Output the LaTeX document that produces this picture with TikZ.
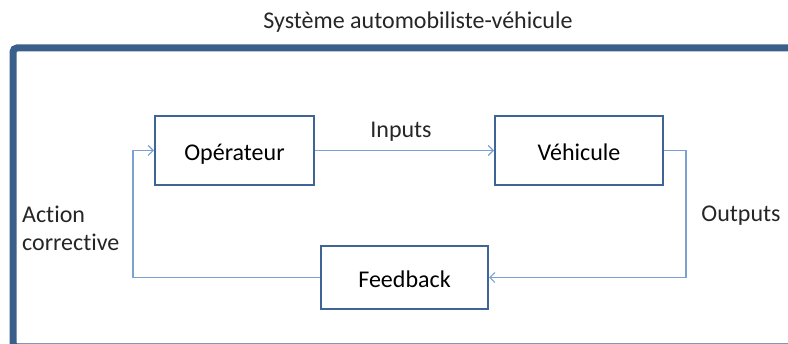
\documentclass[tikz,border=0pt]{standalone}
\usepackage{fontspec}
\setmainfont[Ligatures={NoCommon,NoDiscretionary,NoRare,NoContextual}]{Carlito}
\usetikzlibrary{arrows.meta}
\definecolor{frameblue}{HTML}{3A5F8B}
\definecolor{boxblue}{HTML}{3F6496}
\definecolor{lineblue}{HTML}{7BA0D4}
\tikzset{
  blockbox/.style={draw=boxblue, line width=2pt, fill=white, inner sep=0pt, text height=20pt, text depth=0pt, font=\fontsize{24}{28}\selectfont},
  flow/.style={draw=lineblue, line width=1.6pt, -{Straight Barb[length=5pt,width=10pt,line width=1.2pt]}},
  lbl/.style={font=\fontsize{24}{28}\selectfont, inner sep=0pt, text=black!85}
}
\begin{document}
\begin{tikzpicture}[x=1pt,y=-1pt]
\useasboundingbox (0,0) rectangle (788,344);
\clip (0,0) rectangle (788,344);
\draw[frameblue, line width=7pt, rounded corners=4pt] (13,48) rectangle (796,347);
\node[lbl, anchor=base] (title) at (418,29) {Système automobiliste-véhicule};
\node[blockbox, minimum width=159pt, minimum height=69pt] (op) at (234.5,150.5) {Opérateur};
\node[blockbox, minimum width=168pt, minimum height=69pt] (veh) at (579,150.5) {Véhicule};
\node[blockbox, minimum width=167pt, minimum height=63pt] (fb) at (404.5,277.5) {Feedback};
\coordinate (cl) at (133,150.5);
\coordinate (cr) at (686,150.5);
\draw[flow] (op.east) -- (veh.west);
\draw[flow] (veh.east) -- (cr) |- (fb.east);
\draw[flow] (fb.west) -| (cl) -- (op.west);
\node[lbl, anchor=base] (inputs) at (401,138) {Inputs};
\node[lbl, anchor=base] (outputs) at (741,222) {Outputs};
\node[lbl, anchor=base west] (action) at (22,223) {Action};
\node[lbl, anchor=base west] (corrective) at (22,251) {corrective};
\end{tikzpicture}
\end{document}
